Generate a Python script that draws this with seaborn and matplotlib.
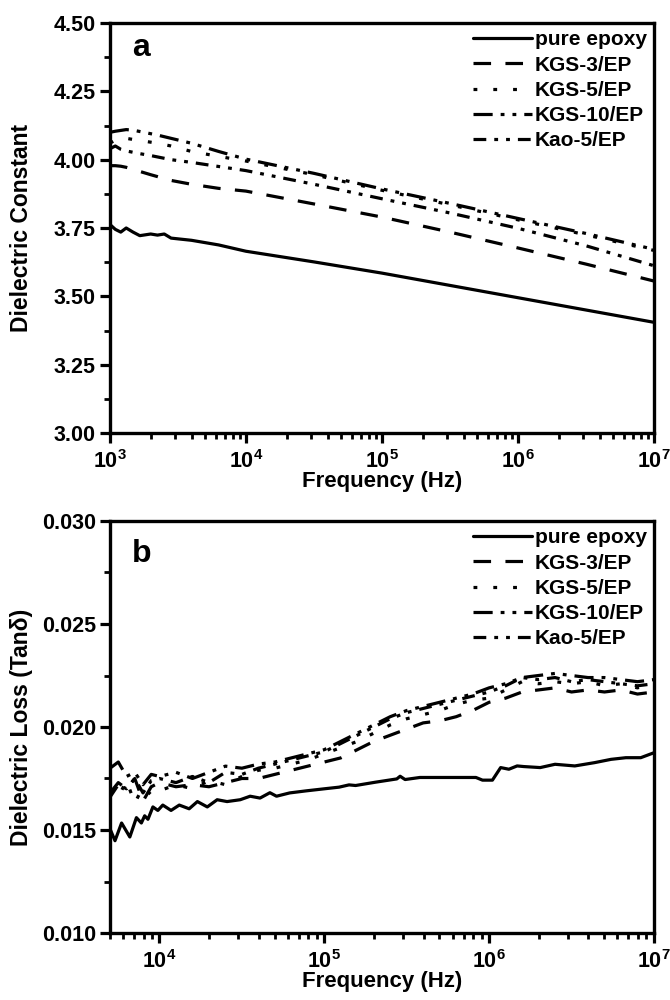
import numpy as np
import pandas as pd
import seaborn as sns
import matplotlib.pyplot as plt
from matplotlib.ticker import MultipleLocator, FormatStrFormatter, LogLocator

sns.set_style("ticks")
plt.rcParams['font.family'] = ['Liberation Sans', 'DejaVu Sans']
plt.rcParams['font.weight'] = 'bold'
plt.rcParams['axes.labelweight'] = 'bold'
plt.rcParams['mathtext.fontset'] = 'custom'
plt.rcParams['mathtext.rm'] = 'Liberation Sans:bold'
plt.rcParams['mathtext.bf'] = 'Liberation Sans:bold'
plt.rcParams['mathtext.default'] = 'bf'
for k in ['text.color', 'axes.labelcolor', 'xtick.color', 'ytick.color', 'axes.edgecolor']:
    plt.rcParams[k] = 'black'

names = ["pure epoxy", "KGS-3/EP", "KGS-5/EP", "KGS-10/EP", "Kao-5/EP"]

# panel a: dielectric constant (log10 of frequency)
a_exp = [3.00, 3.04, 3.08, 3.12, 3.17, 3.22, 3.30, 3.35, 3.40, 3.45,
         3.60, 3.80, 4.00, 4.50, 5.00, 5.50, 6.00, 6.50, 7.00]
a_pure = [3.763, 3.745, 3.735, 3.750, 3.735, 3.722, 3.728, 3.724, 3.728, 3.713,
          3.705, 3.688, 3.665, 3.626, 3.585, 3.540, 3.495, 3.450, 3.405]
a_kgs3 = [3.978, 3.978, 3.976, 3.972, 3.965, 3.957, 3.945, 3.938, 3.930, 3.924,
          3.910, 3.895, 3.885, 3.838, 3.790, 3.735, 3.677, 3.618, 3.556]
a_kgs5 = [4.060, 4.072, 4.080, 4.078, 4.074, 4.070, 4.064, 4.060, 4.055, 4.050,
          4.030, 4.012, 3.995, 3.945, 3.888, 3.835, 3.780, 3.725, 3.668]
a_kgs10 = [4.100, 4.104, 4.107, 4.110, 4.108, 4.103, 4.095, 4.090, 4.084, 4.078,
           4.060, 4.030, 4.002, 3.950, 3.893, 3.840, 3.785, 3.730, 3.672]
a_kao5 = [4.040, 4.050, 4.038, 4.032, 4.027, 4.022, 4.015, 4.010, 4.005, 4.000,
          3.990, 3.975, 3.960, 3.910, 3.857, 3.805, 3.749, 3.685, 3.612]

# panel b: dielectric loss
b_pure_exp = [3.70, 3.73, 3.77, 3.82, 3.86, 3.89, 3.91, 3.93, 3.96, 3.99,
              4.02, 4.07, 4.12, 4.18, 4.23, 4.29, 4.35, 4.41, 4.49, 4.55,
              4.61, 4.67, 4.71, 4.79, 4.89, 5.00, 5.09, 5.15, 5.19, 5.31,
              5.44, 5.46, 5.49, 5.58, 5.92, 5.96, 6.02, 6.07, 6.12, 6.17,
              6.21, 6.31, 6.40, 6.52, 6.64, 6.74, 6.83, 6.92, 7.00]
b_pure = [0.01505, 0.01448, 0.01534, 0.01466, 0.01560, 0.01534, 0.01569, 0.01552, 0.01612, 0.01595,
          0.01621, 0.01595, 0.01621, 0.01603, 0.01638, 0.01612, 0.01647, 0.01638, 0.01647, 0.01664,
          0.01655, 0.01681, 0.01664, 0.01680, 0.01690, 0.01700, 0.01708, 0.01719, 0.01716, 0.01732,
          0.01748, 0.01761, 0.01745, 0.01755, 0.01755, 0.01742, 0.01742, 0.01803, 0.01795, 0.01811,
          0.01808, 0.01803, 0.01819, 0.01811, 0.01827, 0.01843, 0.01851, 0.01851, 0.01875]

b_exp = [3.70, 3.75, 3.80, 3.85, 3.90, 3.95, 4.00, 4.10, 4.20, 4.30,
         4.40, 4.50, 4.60, 4.70, 4.80, 4.90, 5.00, 5.10, 5.20, 5.30,
         5.40, 5.50, 5.60, 5.70, 5.80, 5.90, 6.00, 6.10, 6.20, 6.30,
         6.40, 6.50, 6.60, 6.70, 6.80, 6.90, 7.00]
b_kgs3 = [0.0168, 0.0173, 0.0170, 0.0175, 0.0164, 0.0171, 0.0173, 0.0171, 0.0172, 0.0171,
          0.0173, 0.0175, 0.0175, 0.0177, 0.0179, 0.0181, 0.0183, 0.0185, 0.0189, 0.0193,
          0.0196, 0.0199, 0.0202, 0.0203, 0.0205, 0.0208, 0.0212, 0.0214, 0.0217, 0.0218,
          0.0219, 0.0217, 0.0218, 0.0217, 0.0218, 0.0216, 0.0217]
b_kgs5 = [0.0170, 0.0166, 0.0174, 0.0163, 0.0171, 0.0167, 0.0169, 0.0172, 0.0170, 0.0174,
          0.0172, 0.0176, 0.0179, 0.0180, 0.0182, 0.0184, 0.0187, 0.0190, 0.0193, 0.0197,
          0.0201, 0.0204, 0.0206, 0.0208, 0.0211, 0.0213, 0.0214, 0.0218, 0.0222, 0.0221,
          0.0222, 0.0221, 0.0222, 0.0220, 0.0221, 0.0219, 0.0221]
b_kgs10 = [0.0180, 0.0183, 0.0176, 0.0178, 0.0172, 0.0177, 0.0176, 0.0178, 0.0175, 0.0178,
           0.0181, 0.0180, 0.0182, 0.0183, 0.0185, 0.0187, 0.0189, 0.0193, 0.0197, 0.0201,
           0.0205, 0.0208, 0.0210, 0.0212, 0.0214, 0.0216, 0.0219, 0.0221, 0.0224, 0.0225,
           0.0226, 0.0225, 0.0224, 0.0224, 0.0223, 0.0222, 0.0223]
b_kao5 = [0.0166, 0.0172, 0.0170, 0.0175, 0.0168, 0.0174, 0.0175, 0.0173, 0.0176, 0.0173,
          0.0178, 0.0177, 0.0180, 0.0182, 0.0184, 0.0186, 0.0188, 0.0192, 0.0196, 0.0200,
          0.0204, 0.0207, 0.0209, 0.0211, 0.0213, 0.0215, 0.0217, 0.0220, 0.0224, 0.0223,
          0.0224, 0.0222, 0.0223, 0.0222, 0.0221, 0.0220, 0.0221]

line_styles = ['-', (0, (5.5, 4.5)), (0, (1.2, 5)),
               (0, (6, 2.5, 1.2, 2.5, 1.2, 2.5)), (0, (4, 2.5, 1.2, 2.5, 1.2, 2.5))]

fig = plt.figure(figsize=(6.7, 10), dpi=100)
ax1 = fig.add_axes([0.164, 0.567, 0.812, 0.410])
ax2 = fig.add_axes([0.164, 0.067, 0.812, 0.412])

panel_a = [(a_exp, a_pure), (a_exp, a_kgs3), (a_exp, a_kgs5), (a_exp, a_kgs10), (a_exp, a_kao5)]
panel_b = [(b_pure_exp, b_pure), (b_exp, b_kgs3), (b_exp, b_kgs5), (b_exp, b_kgs10), (b_exp, b_kao5)]

for ax, series in [(ax1, panel_a), (ax2, panel_b)]:
    for name, ls, (ex, vals) in zip(names, line_styles, series):
        sns.lineplot(x=10 ** np.array(ex), y=vals, ax=ax, color='black', lw=2.3,
                     linestyle=ls, label=name, sort=False, estimator=None)
    ax.set_xscale('log')
    ax.xaxis.set_minor_locator(LogLocator(base=10, subs=np.arange(2, 10)))
    for s in ax.spines.values():
        s.set_linewidth(2.4)
    ax.tick_params(which='major', length=7, width=2.3, direction='out',
                   labelsize=15.5, top=False, right=False, pad=3)
    ax.tick_params(axis='x', which='major', pad=5)
    ax.tick_params(which='minor', length=4, width=2, direction='out',
                   top=False, right=False)
    ax.set_xlabel('Frequency (Hz)', fontsize=16, fontweight='bold', labelpad=-1)
    ax.legend(loc='upper right', frameon=False, prop={'size': 15, 'weight': 'bold'},
              handlelength=2.8, handletextpad=0.15, labelspacing=0.3,
              borderaxespad=0.1, borderpad=0.25)

ax1.set_xlim(1e3, 1e7)
ax1.set_ylim(3.0, 4.5)
ax1.yaxis.set_major_locator(MultipleLocator(0.25))
ax1.yaxis.set_minor_locator(MultipleLocator(0.125))
ax1.yaxis.set_major_formatter(FormatStrFormatter('%.2f'))
ax1.set_ylabel('Dielectric Constant', fontsize=16.5, fontweight='bold')
ax1.yaxis.set_label_coords(-0.142, 0.5)
ax1.text(0.04, 0.94, 'a', transform=ax1.transAxes, fontsize=23, fontweight='bold', va='center')

ax2.set_xlim(5e3, 1e7)
ax2.set_ylim(0.010, 0.030)
ax2.yaxis.set_major_locator(MultipleLocator(0.005))
ax2.yaxis.set_minor_locator(MultipleLocator(0.0025))
ax2.yaxis.set_major_formatter(FormatStrFormatter('%.3f'))
ax2.set_ylabel('Dielectric Loss (Tan\u03b4)', fontsize=16.5, fontweight='bold')
ax2.yaxis.set_label_coords(-0.142, 0.5)
ax2.text(0.04, 0.92, 'b', transform=ax2.transAxes, fontsize=23, fontweight='bold', va='center')

fig.savefig('out.png', dpi=100)
